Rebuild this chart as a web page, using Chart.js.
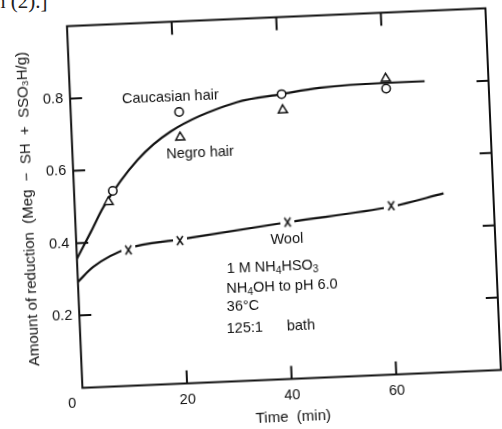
<!DOCTYPE html>
<html>
<head>
<meta charset="utf-8">
<script src="https://cdn.jsdelivr.net/npm/chart.js@4.4.1/dist/chart.umd.min.js"></script>
<style>
  html, body { margin: 0; padding: 0; background: #fff; overflow: hidden; }
  body { width: 502px; height: 429px; position: relative; }
  #scrap { position: absolute; left: -5px; top: -9px; font: 21px/21px "Liberation Serif", "DejaVu Serif", serif; color: #222; }
  #chart { position: absolute; left: 0; top: 0; transform: rotate(-2.45deg); transform-origin: 251px 214.5px; }
</style>
</head>
<body>
<div id="scrap">n (2).]</div>
<canvas id="chart" width="502" height="429"></canvas>
<script>
// values
const timeTicks = [20, 40, 60];
const valueTicks = [0.2, 0.4, 0.6, 0.8];

const caucasianTime = [7.4, 20.7, 40.4, 60.4];
const caucasianValue = [0.54, 0.75, 0.787, 0.79];
const negroTime = [6.5, 20.7, 40.5, 60.4];
const negroValue = [0.51, 0.68, 0.743, 0.818];
const woolTime = [9.9, 19.8, 40.5, 60.4];
const woolValue = [0.375, 0.395, 0.433, 0.466];

// hand drawn fitted curves
const hairCurveTime = [0, 2.9, 5.5, 12.4, 18.9, 31.8, 40.4, 47.7, 60.4, 67.8];
const hairCurveValue = [0.357, 0.43, 0.497, 0.623, 0.697, 0.77, 0.787, 0.8, 0.806, 0.806];
const woolCurveTime = [0, 3.1, 9.7, 19.8, 40.5, 60.5, 70.5];
const woolCurveValue = [0.293, 0.333, 0.379, 0.398, 0.433, 0.464, 0.494];

const INK = '#111';
const FONT = '"Liberation Sans", Arial, sans-serif';

const pts = (xs, ys) => xs.map((x, i) => ({ x: x, y: ys[i] }));

// letter-like x with a white box so the curve breaks around it
function crossMark() {
    const c = document.createElement('canvas');
    c.width = 14; c.height = 11;
    const g = c.getContext('2d');
    g.fillStyle = '#fff';
    g.fillRect(0, 0, 14, 11);
    g.strokeStyle = INK;
    g.lineWidth = 1.5;
    g.beginPath();
    g.moveTo(4, 1); g.lineTo(10, 10);
    g.moveTo(10, 1); g.lineTo(4, 10);
    g.stroke();
    return c;
}

// text pieces: [text, isSubscript]
function richText(ctx, parts, x, y, size) {
    let cx = x;
    parts.forEach(p => {
        ctx.font = (p[1] ? size * 0.7 : size) + 'px ' + FONT;
        ctx.fillText(p[0], cx, y + (p[1] ? size * 0.3 : 0));
        cx += ctx.measureText(p[0]).width;
    });
}

const notes = [
    { parts: [['Caucasian hair']], x: 9.9, y: 0.791 },
    { parts: [['Negro hair']], x: 17.9, y: 0.633 },
    { parts: [['Wool']], x: 37.1, y: 0.384 },
    { parts: [['1 M NH'], ['4', 1], ['HSO'], ['3', 1]], x: 28.5, y: 0.31 },
    { parts: [['NH'], ['4', 1], ['OH to pH 6.0']], x: 28.3, y: 0.255 },
    { parts: [['36°C']], x: 28.2, y: 0.205 },
    { parts: [['125:1']], x: 28.0, y: 0.145 },
    { parts: [['bath']], x: 39.5, y: 0.145 }
];

const framePlugin = {
    id: 'frame',
    afterDatasetsDraw(chart) {
        const { ctx, chartArea: a, scales: { x, y } } = chart;
        ctx.save();
        ctx.strokeStyle = INK;
        ctx.lineWidth = 2;
        ctx.strokeRect(a.left, a.top, a.right - a.left, a.bottom - a.top);
        // inward tick marks on all four sides
        ctx.beginPath();
        timeTicks.forEach(t => {
            const px = x.getPixelForValue(t);
            ctx.moveTo(px, a.bottom); ctx.lineTo(px, a.bottom - 13);
            ctx.moveTo(px, a.top); ctx.lineTo(px, a.top + 13);
        });
        valueTicks.forEach(v => {
            const py = y.getPixelForValue(v);
            ctx.moveTo(a.left, py); ctx.lineTo(a.left + 12, py);
            ctx.moveTo(a.right, py); ctx.lineTo(a.right - 12, py);
        });
        ctx.stroke();

        ctx.fillStyle = INK;
        ctx.textBaseline = 'middle';
        ctx.textAlign = 'left';
        notes.forEach(n => richText(ctx, n.parts, x.getPixelForValue(n.x), y.getPixelForValue(n.y), 14.5));

        // shared origin label
        ctx.font = '14.5px ' + FONT;
        ctx.textAlign = 'center';
        ctx.fillText('0', a.left - 11, a.bottom + 15);
        ctx.restore();
    }
};

new Chart(document.getElementById('chart'), {
    type: 'line',
    data: {
        datasets: [
            {
                label: 'Caucasian hair',
                data: pts(caucasianTime, caucasianValue),
                showLine: false, order: 0,
                pointStyle: 'circle', pointRadius: 4.2,
                pointBorderWidth: 1.5, borderColor: INK, backgroundColor: '#fff'
            },
            {
                label: 'Negro hair',
                data: pts(negroTime, negroValue),
                showLine: false, order: 0,
                pointStyle: 'triangle', pointRadius: 5.2,
                pointBorderWidth: 1.5, borderColor: INK, backgroundColor: '#fff'
            },
            {
                label: 'Wool',
                data: pts(woolTime, woolValue),
                showLine: false, order: 0,
                pointStyle: crossMark()
            },
            {
                label: 'hair curve',
                data: pts(hairCurveTime, hairCurveValue),
                order: 1, borderColor: INK, borderWidth: 2.2,
                pointRadius: 0, cubicInterpolationMode: 'monotone'
            },
            {
                label: 'wool curve',
                data: pts(woolCurveTime, woolCurveValue),
                order: 1, borderColor: INK, borderWidth: 2.2,
                pointRadius: 0, cubicInterpolationMode: 'monotone'
            }
        ]
    },
    options: {
        responsive: false,
        animation: false,
        events: [],
        layout: { padding: { left: 0, right: 5, top: 18.5, bottom: 0 } },
        plugins: { legend: { display: false }, tooltip: { enabled: false } },
        scales: {
            x: {
                type: 'linear', min: 0, max: 80,
                grid: { display: false, drawTicks: false },
                border: { display: false },
                ticks: {
                    stepSize: 20, padding: 8, color: INK,
                    font: { family: FONT, size: 14.5 },
                    callback: v => (v === 0 || v === 80) ? '' : v
                },
                title: {
                    display: true, text: 'Time  (min)', color: INK,
                    font: { family: FONT, size: 15 },
                    padding: { top: 0, bottom: 1.5 }
                },
                afterFit: s => { s.height = 48.5; }
            },
            y: {
                min: 0, max: 1,
                grid: { display: false, drawTicks: false },
                border: { display: false },
                ticks: {
                    stepSize: 0.2, padding: 7, color: INK,
                    font: { family: FONT, size: 14.5 },
                    callback: v => (v < 0.1 || v > 0.9) ? '' : v.toFixed(1)
                },
                title: {
                    display: true, text: 'Amount of reduction  (Meg  \u2212  SH  +  SSO\u2083H/g)', color: INK,
                    font: { family: FONT, size: 15 },
                    padding: { top: 20, bottom: 0 }
                },
                afterFit: s => { s.width = 75.2; }
            }
        }
    },
    plugins: [framePlugin]
});
</script>
</body>
</html>
